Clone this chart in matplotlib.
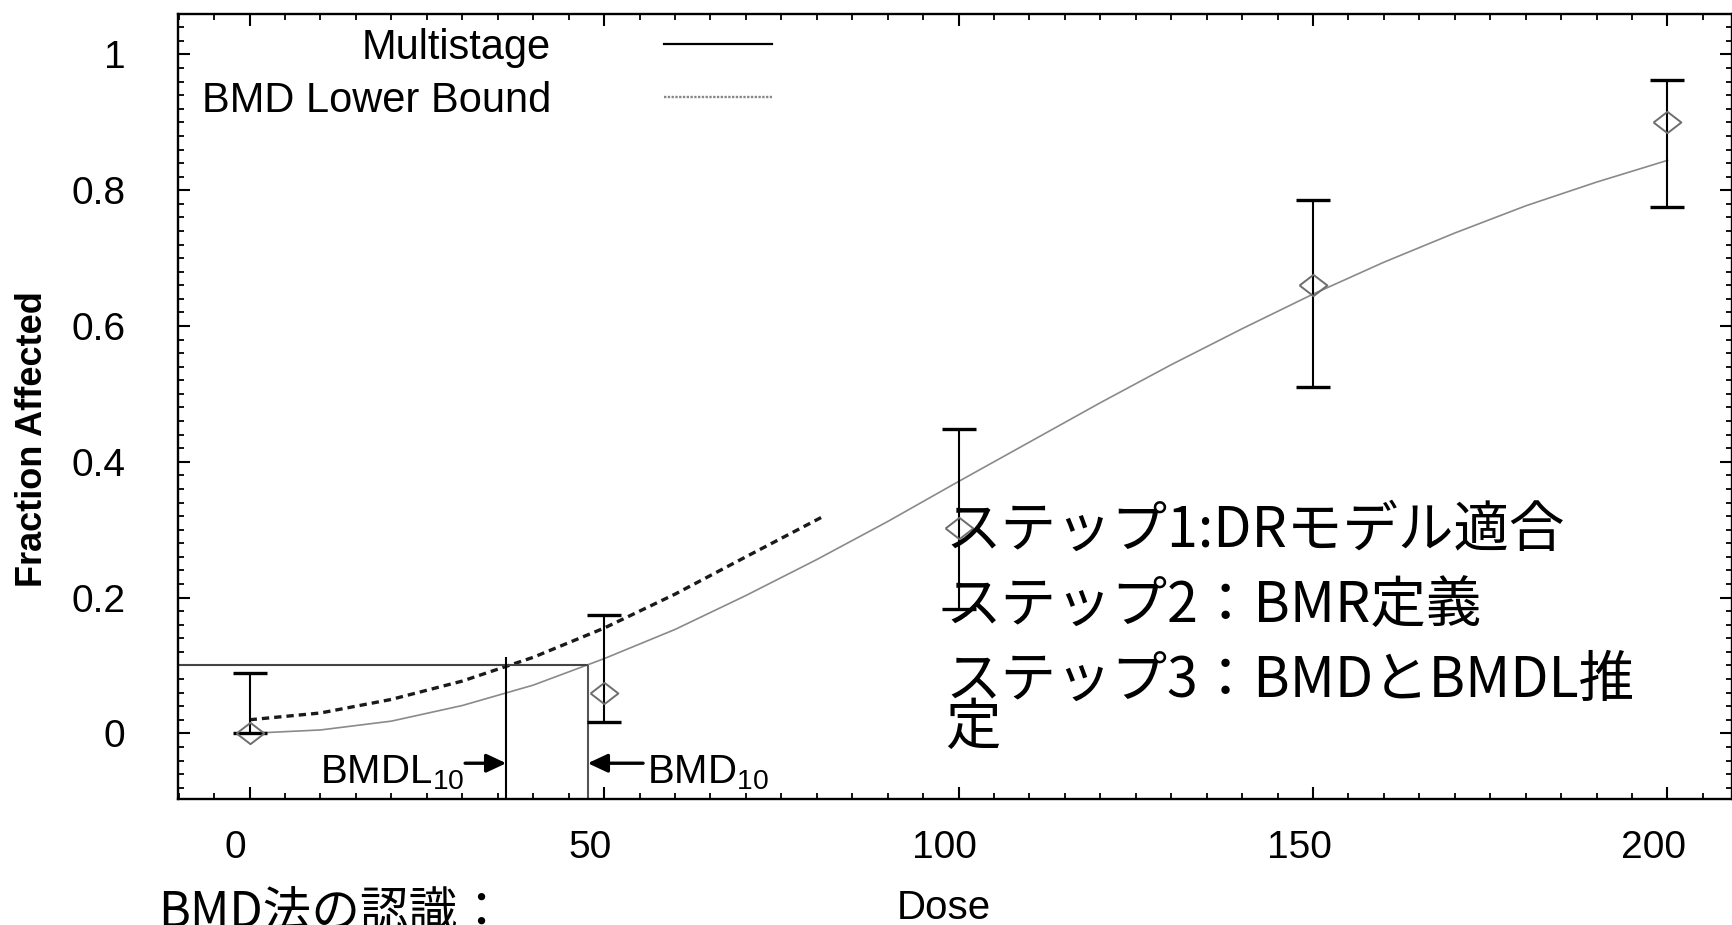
import matplotlib
matplotlib.use("Agg")
import matplotlib.pyplot as plt
import matplotlib.transforms as mtransforms
from matplotlib.lines import Line2D
from matplotlib.ticker import MultipleLocator

# observed dose groups with confidence bars
dose = [0, 50, 100, 150, 200]
frac = [0.0, 0.059, 0.302, 0.66, 0.90]
ci_low = [0.0, 0.016, 0.183, 0.51, 0.775]
ci_high = [0.089, 0.174, 0.448, 0.785, 0.963]

# multistage fit
fit_dose = [0, 10, 20, 30, 40, 50, 60, 70, 80, 90, 100,
            110, 120, 130, 140, 150, 160, 170, 180, 190, 200]
fit_frac = [0.0, 0.005, 0.018, 0.041, 0.071, 0.11, 0.153, 0.203, 0.256, 0.312, 0.371,
            0.429, 0.487, 0.543, 0.596, 0.647, 0.694, 0.737, 0.777, 0.812, 0.844]

# BMD lower bound curve
lb_dose = [0, 10, 20, 30, 40, 50, 60, 70, 81]
lb_frac = [0.02, 0.03, 0.05, 0.077, 0.112, 0.155, 0.205, 0.26, 0.32]

bmr = 0.1
bmd = 47.7
bmdl = 36.2
bmdl_top = 0.113

xticks = [0, 50, 100, 150, 200]
yticks = [0, 0.2, 0.4, 0.6, 0.8, 1]
ytick_labels = ["0", "0.2", "0.4", "0.6", "0.8", "1"]
legend_labels = ["Multistage", "BMD Lower Bound"]
steps = ["ステップ1:DRモデル適合", "ステップ2：BMR定義", "ステップ3：BMDとBMDL推", "定"]
footer = "BMD法の認識："

plt.rcParams['font.family'] = ['Liberation Sans', 'DejaVu Sans']
cjk = ['Noto Sans CJK JP', 'DejaVu Sans']

W, H = 1733, 925
fig = plt.figure(figsize=(W / 100, H / 100), dpi=100)
ax = fig.add_axes([178 / W, 1 - 799 / H, (1732 - 178) / W, (799 - 14) / H])
x0, x1 = -10.1, 209.1
y0, y1 = -0.0967, 1.0596
ax.set_xlim(x0, x1)
ax.set_ylim(y0, y1)

# data
yerr = [[f - l for f, l in zip(frac, ci_low)], [h - f for f, h in zip(frac, ci_high)]]
ax.errorbar(dose, frac, yerr=yerr, fmt='none', ecolor='black', elinewidth=1.5,
            capsize=12.5, capthick=2.4, zorder=3)
diamond = [(-1.3, 0), (0, 1), (1.3, 0), (0, -1), (-1.3, 0)]
ax.plot(dose, frac, linestyle='none', marker=diamond, ms=20, mfc='none',
        mec='#6e6e6e', mew=1.4, zorder=4)
ax.plot(fit_dose, fit_frac, color='#8a8a8a', lw=1.2, zorder=2)
ax.plot(lb_dose, lb_frac, color='#1a1a1a', lw=2.4, linestyle=(0, (2.2, 1.5)), zorder=2)

# BMR / BMD / BMDL guides
ax.hlines(bmr, x0, bmd, color='#444444', lw=1.5, zorder=2)
ax.vlines(bmdl, y0, bmdl_top, color='black', lw=1.5, zorder=2)
ax.vlines(bmd, y0, bmr, color='#555555', lw=1.5, zorder=2)

arrow = dict(arrowstyle='-|>,head_length=0.6,head_width=0.28', lw=2.4, color='black',
             shrinkA=0, shrinkB=0, mutation_scale=20)
ax.annotate('', xy=(bmdl, -0.044), xytext=(30.4, -0.044), arrowprops=arrow)
ax.annotate('', xy=(bmd, -0.044), xytext=(55.5, -0.044), arrowprops=arrow)
ax.text(30.3, -0.0736, r'BMDL$_{\mathregular{10}}$', fontsize=29, ha='right', va='baseline')
ax.text(56.0, -0.0736, r'BMD$_{\mathregular{10}}$', fontsize=29, ha='left', va='baseline')

# ticks
ax.set_xticks(xticks)
ax.set_yticks(yticks)
ax.set_yticklabels(ytick_labels)
ax.xaxis.set_minor_locator(MultipleLocator(5))
ax.yaxis.set_minor_locator(MultipleLocator(0.02))
ax.tick_params(which='both', direction='in', top=True, right=True, colors='black')
ax.tick_params(which='major', length=8.5, width=1.5, labelsize=28)
ax.tick_params(which='minor', length=4.5, width=1.3)
ax.tick_params(axis='x', pad=22)
ax.tick_params(axis='y', pad=38)
for sp in ax.spines.values():
    sp.set_linewidth(1.7)
shift = mtransforms.ScaledTranslation(-14 / 100, 0, fig.dpi_scale_trans)
for t in ax.xaxis.get_major_ticks():
    t.label1.set_transform(t.label1.get_transform() + shift)

# legend
handles = [Line2D([], [], color='black', lw=1.6),
           Line2D([], [], color='#888888', lw=1.7, linestyle=(0, (1, 0.6)))]
ax.legend(handles, legend_labels, loc='upper right', bbox_to_anchor=(772 / W, 1 - 28 / H),
          bbox_transform=fig.transFigure, markerfirst=False, frameon=False, fontsize=30,
          handlelength=2.6, handletextpad=2.7, labelspacing=0.3, borderpad=0,
          borderaxespad=0)

# axis titles
fig.text(33 / W, 1 - 439 / H, 'Fraction Affected', rotation=90, ha='center', va='center',
         fontsize=26, fontweight='bold')
fig.text(944 / W, 1 - 919 / H, 'Dose', ha='center', va='baseline', fontsize=29)

# slide text
for line, base in zip(steps, [547, 622, 697, 744]):
    fig.text(945 / W, 1 - base / H, line, fontsize=40, family=cjk, ha='left',
             va='baseline', zorder=10)
fig.text(158 / W, 1 - 928 / H, footer, fontsize=35, family=cjk, ha='left', va='baseline')

fig.savefig('out.png', dpi=100)
